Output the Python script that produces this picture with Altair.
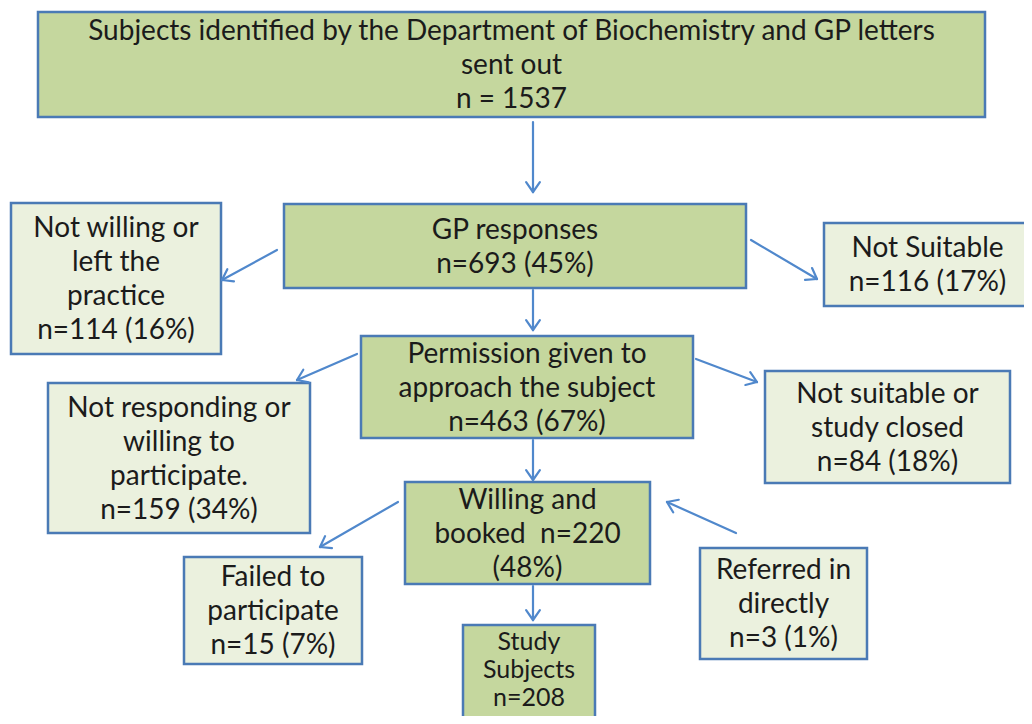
import math
import altair as alt
import pandas as pd

# ---- content (values) ----
box_lines = [
    ["Subjects identified by the Department of Biochemistry and GP letters", "sent out", "n = 1537"],
    ["GP responses", "n=693 (45%)"],
    ["Not willing or", "left the", "practice", "n=114 (16%)"],
    ["Not Suitable", "n=116 (17%)"],
    ["Permission given to", "approach the subject", "n=463 (67%)"],
    ["Not responding or", "willing to", "participate.", "n=159 (34%)"],
    ["Not suitable or", "study closed", "n=84 (18%)"],
    ["Willing and", "booked\u00a0\u00a0n=220", "(48%)"],
    ["Failed to", "participate", "n=15 (7%)"],
    ["Referred in", "directly", "n=3 (1%)"],
    ["Study", "Subjects", "n=208"],
]
box_kind = ["main", "main", "side", "side", "main", "side", "side", "main", "side", "side", "main"]

# ---- layout (positions, in page pixels) ----
box_x0 = [38, 284, 11, 824, 361, 48, 765, 405, 184, 700, 463]
box_x1 = [985, 746, 221, 1031, 693, 310, 1010, 650, 362, 867, 595]
box_y0 = [12, 204, 203, 223, 336, 383, 371, 482, 557, 548, 625]
box_y1 = [117, 288, 354, 306, 438, 533, 483, 584, 664, 659, 732]

arrow_from_x = [533, 277, 751, 533, 357, 696, 533, 398, 736, 533]
arrow_from_y = [122, 250, 240, 290, 354, 359, 440, 502, 533, 586]
arrow_to_x = [533, 222, 817, 533, 297, 757, 533, 320, 667, 533]
arrow_to_y = [192, 280, 279, 330, 380, 382, 480, 547, 502, 620]

GREEN = "#c5d79e"
LIGHT = "#ebf1de"
BORDER = "#4a7ab5"
ARROW = "#5088cc"
TEXT = "#1b1b1b"
LINE_H = 34
FONT = "Lato"
FSIZE = 28

boxes = pd.DataFrame({"x0": box_x0, "x1": box_x1, "y0": box_y0, "y1": box_y1, "kind": box_kind})

rows = []
for i, lines in enumerate(box_lines):
    cx = (box_x0[i] + box_x1[i]) / 2
    cy = (box_y0[i] + box_y1[i]) / 2 + 1.5
    lh, fs = LINE_H, FSIZE
    if i == 10:
        cy, lh, fs = 670, 28, 25
    n = len(lines)
    for j, t in enumerate(lines):
        rows.append({"x": cx, "y": cy + (j - (n - 1) / 2) * lh, "t": t, "fs": fs})
texts = pd.DataFrame(rows)

segs = []
HL = 12
for a, b, c, d in zip(arrow_from_x, arrow_from_y, arrow_to_x, arrow_to_y):
    segs.append({"x": a, "y": b, "x2": c, "y2": d})
    dx, dy = c - a, d - b
    L = math.hypot(dx, dy)
    ux, uy = dx / L, dy / L
    for ang in (math.radians(35), -math.radians(35)):
        rx = ux * math.cos(ang) - uy * math.sin(ang)
        ry = ux * math.sin(ang) + uy * math.cos(ang)
        segs.append({"x": c, "y": d, "x2": c - HL * rx, "y2": d - HL * ry})
arrows = pd.DataFrame(segs)

xs = alt.Scale(domain=[8, 1024], nice=False, zero=False)
ys = alt.Scale(domain=[8, 716], nice=False, zero=False, reverse=True)

rects = alt.Chart(boxes).mark_rect(stroke=BORDER, strokeWidth=2.5).encode(
    x=alt.X("x0:Q", scale=xs, axis=None),
    x2="x1:Q",
    y=alt.Y("y0:Q", scale=ys, axis=None),
    y2="y1:Q",
    fill=alt.Fill("kind:N", scale=alt.Scale(domain=["main", "side"], range=[GREEN, LIGHT]), legend=None),
)

labels = alt.Chart(texts).mark_text(font=FONT, color=TEXT, baseline="middle", align="center").encode(
    x=alt.X("x:Q", scale=xs, axis=None),
    y=alt.Y("y:Q", scale=ys, axis=None),
    text="t:N",
    size=alt.Size("fs:Q", scale=None, legend=None),
)

rules = alt.Chart(arrows).mark_rule(color=ARROW, strokeWidth=2.2, strokeCap="round").encode(
    x=alt.X("x:Q", scale=xs, axis=None),
    y=alt.Y("y:Q", scale=ys, axis=None),
    x2="x2:Q",
    y2="y2:Q",
)

chart = alt.layer(rects, rules, labels).properties(
    width=1016, height=708, padding=0, autosize=alt.AutoSizeParams(type="none"), background="white"
).configure_view(stroke=None)

chart.save("out.html", embed_options={"renderer": "svg", "actions": False})
